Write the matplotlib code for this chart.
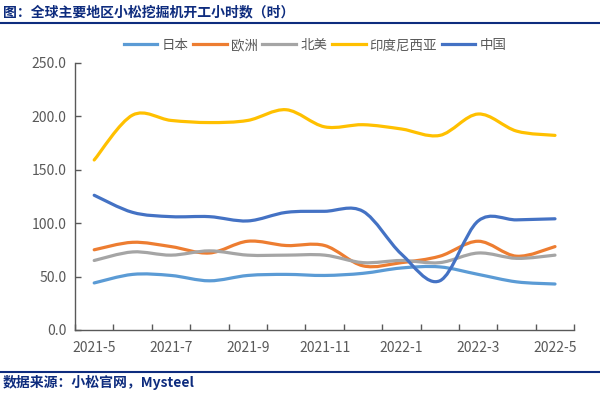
import numpy as np
import matplotlib.pyplot as plt
from matplotlib.path import Path
from matplotlib.patches import PathPatch
from matplotlib.lines import Line2D

plt.rcParams['font.family'] = ['Noto Sans CJK SC', 'DejaVu Sans']

# Data (hours), monthly 2021-5 .. 2022-5
months = ['2021-5', '2021-6', '2021-7', '2021-8', '2021-9', '2021-10', '2021-11',
          '2021-12', '2022-1', '2022-2', '2022-3', '2022-4', '2022-5']
japan = [44, 52, 51, 46, 51, 52, 51, 53, 58, 59, 52, 45, 43]
europe = [75, 82, 78, 72, 83, 79, 79, 60, 63, 69, 83, 69, 78]
north_america = [65, 73, 70, 74, 70, 70, 70, 63, 65, 63, 72, 67, 70]
india = [159, 201, 196, 194, 196, 206, 190, 192, 188, 182, 202, 186, 182]
china = [126, 110, 106, 106, 102, 110, 111, 111, 71, 46, 102, 103, 104]

series = [('日本', japan, '#5B9BD5'),
          ('欧洲', europe, '#ED7D31'),
          ('北美', north_america, '#A5A5A5'),
          ('印度尼西亚', india, '#FFC000'),
          ('中国', china, '#4472C4')]

navy = '#0E2C7E'
grey = '#595959'


def smooth_path(x, y):
    # Excel-style smoothed line: cubic bezier through every point
    p = np.column_stack([x, y]).astype(float)
    n = len(p)
    verts = [p[0]]
    codes = [Path.MOVETO]
    for i in range(n - 1):
        p0 = p[i - 1] if i > 0 else p[i]
        p3 = p[i + 2] if i + 2 < n else p[i + 1]
        c1 = p[i] + (p[i + 1] - p0) / 6
        c2 = p[i + 1] - (p3 - p[i]) / 6
        verts += [c1, c2, p[i + 1]]
        codes += [Path.CURVE4] * 3
    return Path(verts, codes)


fig = plt.figure(figsize=(6, 3.96), dpi=100)
ax = fig.add_axes([0.125, 0.1667, 0.832, 0.675])

x = np.arange(len(months))
handles = []
for name, vals, color in series:
    patch = PathPatch(smooth_path(x, vals), facecolor='none', edgecolor=color,
                      lw=2.3, capstyle='round', joinstyle='round')
    ax.add_patch(patch)
    handles.append(Line2D([], [], color=color, lw=2.3, label=name))

ax.set_xlim(-0.5, len(months) - 0.5)
ax.set_ylim(0, 250)
ax.set_yticks(np.arange(0, 251, 50))
ax.set_yticklabels([f'{v:.1f}' for v in np.arange(0, 251, 50)])
ax.set_xticks(x[::2])
ax.set_xticklabels(months[::2])
ax.set_xticks(np.arange(-0.5, len(months), 1), minor=True)
ax.tick_params(axis='x', which='major', length=0, pad=8, labelsize=10, labelcolor=grey)
ax.tick_params(axis='x', which='minor', direction='in', length=4, color=grey, width=1)
ax.tick_params(axis='y', direction='in', length=4, color=grey, width=1,
               labelsize=10, labelcolor=grey, pad=6)

for side in ['top', 'right']:
    ax.spines[side].set_visible(False)
for side in ['left', 'bottom']:
    ax.spines[side].set_color(grey)
    ax.spines[side].set_linewidth(1)

fig.legend(handles=handles, loc='center', bbox_to_anchor=(315 / 600, 1 - 45 / 396),
           ncol=5, frameon=False, fontsize=9.7, handlelength=2.5, columnspacing=0.35,
           handletextpad=0.3, labelcolor=grey)

fig.text(0.005, 1 - 12.5 / 396, '图：全球主要地区小松挖掘机开工小时数（时）', fontsize=10,
         fontweight='bold', color=navy, va='center', ha='left')
fig.add_artist(Line2D([0, 1], [1 - 22.7 / 396] * 2, color=navy, lw=1.5,
                      transform=fig.transFigure))
fig.add_artist(Line2D([0, 1], [1 - 372.3 / 396] * 2, color=navy, lw=1.5,
                      transform=fig.transFigure))
fig.text(0.005, 1 - 382.5 / 396, '数据来源：小松官网，Mysteel', fontsize=10,
         fontweight='bold', color=navy, va='center', ha='left')

fig.savefig('out.png', dpi=100)
